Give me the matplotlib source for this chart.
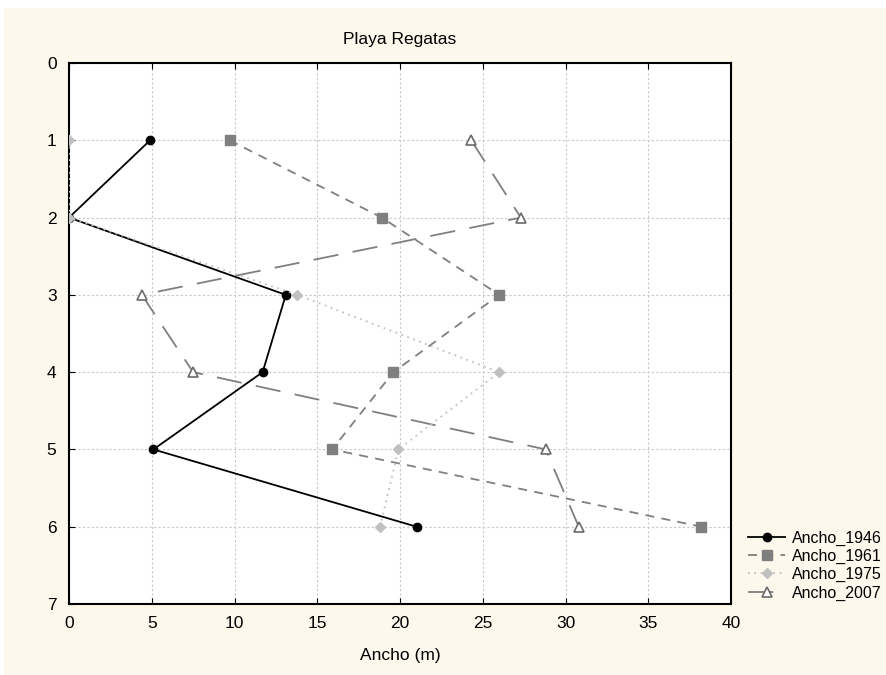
import matplotlib.pyplot as plt
from matplotlib.patches import Rectangle

# Profundidad (perfil) y ancho de playa por año
perfil = [1, 2, 3, 4, 5, 6]
ancho_1946 = [4.9, 0.0, 13.1, 11.7, 5.1, 21.0]
ancho_1961 = [9.7, 18.9, 26.0, 19.6, 15.9, 38.2]
ancho_1975 = [0.0, 0.0, 13.8, 26.0, 19.9, 18.8]
ancho_2007 = [24.3, 27.3, 4.4, 7.5, 28.8, 30.8]

plt.rcParams['font.family'] = ['Liberation Sans', 'DejaVu Sans']

fig = plt.figure(figsize=(8.86, 6.75), dpi=100, facecolor='white')
fig.patches.append(Rectangle((4 / 886, 0), 1, 1 - 8 / 675, transform=fig.transFigure,
                             facecolor='#fdf8ec', edgecolor='none', zorder=-1))

ax = fig.add_axes([69 / 886, 1 - 604 / 675, (731 - 69) / 886, (604 - 63) / 675])
ax.set_facecolor('white')

ax.plot(ancho_1946, perfil, color='black', lw=1.3, marker='o', ms=6,
        label='Ancho_1946', zorder=3)
ax.plot(ancho_1961, perfil, color='#7f7f7f', lw=1.3, ls=(0, (5, 4)), marker='s', ms=6.5,
        label='Ancho_1961', zorder=4)
ax.plot(ancho_1975, perfil, color='#c0c0c0', lw=1.3, ls=(0, (1, 2.5)), marker='D', ms=5.5,
        label='Ancho_1975', zorder=5)
ax.plot(ancho_2007, perfil, color='#7f7f7f', lw=1.3, ls=(0, (14, 8)), marker='^', ms=7,
        mfc='white', mec='#6a6a6a', mew=1.2, label='Ancho_2007', zorder=2)

ax.set_xlim(0, 40)
ax.set_ylim(7, 0)
ax.set_xticks(range(0, 41, 5))
ax.set_yticks(range(0, 8))
ax.grid(True, color='#c8c8c8', ls=(0, (2, 2)), lw=0.8)
ax.tick_params(direction='in', top=True, right=False, labelsize=12.5, length=4, pad=9)
for s in ax.spines.values():
    s.set_linewidth(1.5)

ax.set_title('Playa Regatas', fontsize=12.5, pad=14)
ax.set_xlabel('Ancho (m)', fontsize=12.5, labelpad=12)

fig.legend(loc='upper left', bbox_to_anchor=(742 / 886, 1 - 524 / 675),
           frameon=False, fontsize=11.5, handlelength=2.3, handletextpad=0.4,
           labelspacing=0.2, borderaxespad=0)

fig.savefig('out.png', dpi=100, facecolor=fig.get_facecolor())
